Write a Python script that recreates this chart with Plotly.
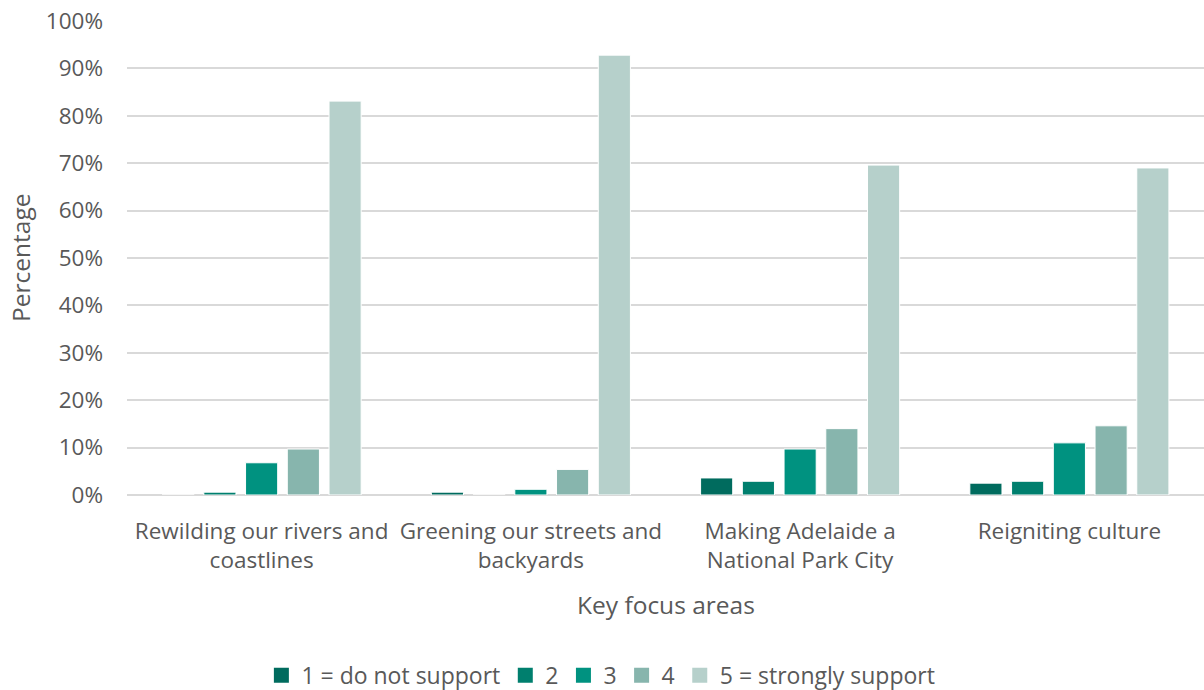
import plotly.graph_objects as go

categories = [
    "Rewilding our rivers and<br>coastlines",
    "Greening our streets and<br>backyards",
    "Making Adelaide a<br>National Park City",
    "Reigniting culture",
]
series_names = ["1 = do not support", "2", "3", "4", "5 = strongly support"]
s1 = [0.0, 0.6, 3.6, 2.5]
s2 = [0.6, 0.0, 2.9, 2.9]
s3 = [6.8, 1.2, 9.7, 11.0]
s4 = [9.7, 5.4, 14.0, 14.6]
s5 = [83.1, 92.8, 69.6, 69.0]
series_values = [s1, s2, s3, s4, s5]
colors = ["#006B5E", "#007F6E", "#009280", "#87B5AD", "#B6D0CB"]

FONT = "Open Sans, Noto Sans, sans-serif"
GREY = "#595959"
TICK = 22.5

fig = go.Figure()
for i, (name, vals, col) in enumerate(zip(series_names, series_values, colors)):
    fig.add_trace(go.Bar(
        x=categories, y=vals, name=name, legendgroup=f"g{i}",
        showlegend=False,
        marker=dict(color=col, line=dict(color="white", width=1)),
    ))
# legend entries with larger square swatches
for i, (name, col) in enumerate(zip(series_names, colors)):
    fig.add_trace(go.Scatter(
        x=[None], y=[None], mode="markers", name=name, legendgroup=f"g{i}",
        marker=dict(symbol="square", size=15, color=col),
    ))

fig.update_layout(
    width=1204, height=690,
    margin=dict(l=127, r=0, t=21, b=195, autoexpand=False),
    paper_bgcolor="white", plot_bgcolor="white",
    barmode="group", bargap=0.225, bargroupgap=0.23,
    font=dict(family=FONT, size=TICK, color=GREY),
    showlegend=True,
    legend=dict(
        orientation="h", x=0.44, xanchor="center", y=-0.335, yanchor="top",
        font=dict(family=FONT, size=23, color=GREY),
        itemsizing="trace", traceorder="normal", itemwidth=30,
        tracegroupgap=0,
    ),
    xaxis=dict(
        showgrid=False, showline=False, ticks="",
        ticklabelstandoff=20,
        tickfont=dict(family=FONT, size=TICK, color=GREY),
    ),
    yaxis=dict(
        range=[0, 100], dtick=10, ticksuffix="%",
        showgrid=True, gridcolor="#D9D9D9", gridwidth=1.5,
        zeroline=True, zerolinecolor="#D9D9D9", zerolinewidth=1.5,
        showline=False, ticks="", ticklabelstandoff=23,
        tickfont=dict(family=FONT, size=TICK, color=GREY),
    ),
    annotations=[
        dict(text="Key focus areas", xref="paper", yref="paper",
             x=0.5, y=-0.232, xanchor="center", yanchor="middle",
             showarrow=False, font=dict(family=FONT, size=24.5, color=GREY)),
        dict(text="Percentage", xref="paper", yref="paper",
             x=-0.0994, y=0.5, xanchor="center", yanchor="middle",
             textangle=-90, showarrow=False,
             font=dict(family=FONT, size=24.5, color=GREY)),
    ],
)

fig.write_html("out.html")
